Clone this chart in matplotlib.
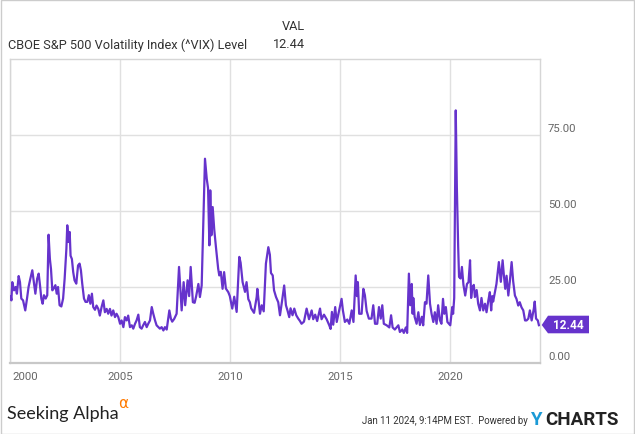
import matplotlib
matplotlib.use("Agg")
import matplotlib.pyplot as plt
import matplotlib.transforms as mtransforms
from matplotlib.patches import Polygon, Rectangle

plt.rcParams['font.family'] = ['Roboto', 'DejaVu Sans']

# weekly-ish VIX levels (decimal years)
years = [
    2000.02, 2000.05, 2000.09, 2000.17, 2000.24, 2000.30, 2000.38, 2000.44, 2000.50, 2000.58,
    2000.68, 2000.76, 2000.83, 2000.91, 2001.00, 2001.08, 2001.14, 2001.22, 2001.29, 2001.35,
    2001.41, 2001.47, 2001.53, 2001.61, 2001.68, 2001.74, 2001.80, 2001.85, 2001.91, 2001.97,
    2002.05, 2002.11, 2002.17, 2002.24, 2002.32, 2002.40, 2002.47, 2002.55, 2002.59, 2002.65,
    2002.70, 2002.74, 2002.80, 2002.86, 2002.92, 2003.00, 2003.08, 2003.15, 2003.21, 2003.27,
    2003.35, 2003.42, 2003.50, 2003.57, 2003.64, 2003.71, 2003.77, 2003.85, 2003.92, 2004.00,
    2004.07, 2004.15, 2004.23, 2004.30, 2004.38, 2004.45, 2004.53, 2004.60, 2004.68, 2004.76,
    2004.83, 2004.91, 2004.99, 2005.06, 2005.14, 2005.21, 2005.29, 2005.36, 2005.44, 2005.52,
    2005.59, 2005.67, 2005.74, 2005.82, 2005.89, 2005.97, 2006.04, 2006.12, 2006.20, 2006.27,
    2006.35, 2006.43, 2006.50, 2006.58, 2006.65, 2006.73, 2006.80, 2006.88, 2006.96, 2007.03,
    2007.11, 2007.18, 2007.23, 2007.30, 2007.36, 2007.45, 2007.56, 2007.67, 2007.79, 2007.88,
    2007.95, 2008.06, 2008.13, 2008.20, 2008.30, 2008.38, 2008.45, 2008.55, 2008.62, 2008.70,
    2008.85, 2008.93, 2008.99, 2009.05, 2009.09, 2009.14, 2009.20, 2009.27, 2009.35, 2009.45,
    2009.50, 2009.57, 2009.65, 2009.72, 2009.80, 2009.91, 2009.98, 2010.09, 2010.18, 2010.29,
    2010.41, 2010.47, 2010.56, 2010.67, 2010.74, 2010.82, 2010.89, 2010.95, 2011.08, 2011.20,
    2011.23, 2011.35, 2011.43, 2011.52, 2011.62, 2011.73, 2011.80, 2011.85, 2011.93, 2011.99,
    2012.08, 2012.18, 2012.26, 2012.35, 2012.45, 2012.53, 2012.60, 2012.68, 2012.74, 2012.83,
    2012.91, 2013.00, 2013.09, 2013.17, 2013.24, 2013.35, 2013.47, 2013.58, 2013.70, 2013.77,
    2013.86, 2013.95, 2014.08, 2014.15, 2014.26, 2014.38, 2014.50, 2014.56, 2014.62, 2014.68,
    2014.77, 2014.84, 2014.95, 2015.06, 2015.12, 2015.21, 2015.32, 2015.41, 2015.52, 2015.60,
    2015.70, 2015.76, 2015.80, 2015.86, 2015.97, 2016.05, 2016.12, 2016.20, 2016.30, 2016.42,
    2016.50, 2016.58, 2016.68, 2016.76, 2016.84, 2016.91, 2016.98, 2017.11, 2017.23, 2017.31,
    2017.38, 2017.48, 2017.56, 2017.64, 2017.71, 2017.82, 2017.89, 2017.98, 2018.04, 2018.12,
    2018.18, 2018.25, 2018.29, 2018.32, 2018.38, 2018.47, 2018.55, 2018.62, 2018.71, 2018.77,
    2018.85, 2018.92, 2019.00, 2019.08, 2019.15, 2019.23, 2019.30, 2019.38, 2019.45, 2019.53,
    2019.60, 2019.67, 2019.73, 2019.80, 2019.87, 2019.94, 2020.00, 2020.09, 2020.13, 2020.18,
    2020.25, 2020.30, 2020.36, 2020.40, 2020.47, 2020.53, 2020.60, 2020.68, 2020.76, 2020.83,
    2020.90, 2020.95, 2021.00, 2021.07, 2021.12, 2021.20, 2021.27, 2021.35, 2021.42, 2021.50,
    2021.58, 2021.65, 2021.73, 2021.80, 2021.86, 2021.91, 2021.95, 2022.03, 2022.10, 2022.21,
    2022.30, 2022.38, 2022.44, 2022.50, 2022.56, 2022.64, 2022.71, 2022.79, 2022.86, 2022.94,
    2023.01, 2023.09, 2023.16, 2023.24, 2023.32, 2023.40, 2023.47, 2023.55, 2023.62, 2023.70,
    2023.80, 2023.84, 2023.90, 2023.98, 2024.03,
]
vix = [
    22.0, 20.6, 26.6, 23.9, 25.0, 22.8, 28.6, 26.6, 21.2, 20.6,
    17.3, 21.2, 25.0, 27.7, 30.5, 26.1, 22.8, 27.7, 29.4, 25.6,
    21.2, 19.5, 22.3, 21.2, 22.3, 42.2, 34.2, 30.9, 23.9, 24.5,
    25.6, 22.8, 25.0, 19.0, 18.6, 21.2, 27.7, 37.6, 45.3, 39.8,
    43.1, 35.3, 34.2, 29.9, 27.2, 26.1, 32.1, 32.7, 30.5, 26.1,
    21.2, 20.1, 20.1, 22.3, 19.5, 22.8, 18.4, 17.5, 18.9, 17.8,
    15.6, 18.4, 20.6, 16.7, 17.8, 16.2, 17.8, 15.6, 17.3, 15.1,
    16.2, 15.1, 12.9, 14.0, 11.8, 15.1, 14.0, 15.6, 11.8, 12.4,
    11.3, 12.9, 14.0, 15.9, 11.8, 11.3, 12.4, 13.5, 11.8, 12.9,
    14.0, 18.4, 16.2, 14.0, 12.4, 11.8, 11.3, 11.8, 10.7, 11.8,
    11.0, 14.6, 17.3, 14.6, 13.6, 14.5, 16.2, 31.6, 17.3, 26.6,
    19.0, 27.2, 22.0, 31.6, 20.0, 19.8, 22.0, 26.0, 21.7, 25.5,
    67.2, 60.6, 57.5, 38.7, 56.8, 42.0, 51.3, 44.0, 38.0, 31.0,
    28.8, 30.0, 24.4, 29.9, 24.5, 23.3, 22.0, 17.9, 21.8, 16.8,
    34.9, 33.0, 26.6, 23.4, 26.6, 21.0, 20.0, 18.0, 16.5, 21.7,
    24.4, 16.2, 19.0, 17.0, 32.7, 38.1, 35.6, 29.6, 28.8, 23.9,
    21.7, 20.0, 15.7, 20.2, 25.5, 19.0, 17.3, 15.1, 18.0, 15.7,
    17.9, 15.7, 14.6, 13.8, 12.9, 13.6, 17.9, 14.4, 17.3, 14.4,
    15.9, 13.8, 17.9, 14.4, 15.9, 14.4, 12.4, 11.2, 16.8, 12.6,
    18.4, 13.5, 17.3, 21.1, 17.3, 13.5, 14.3, 12.9, 17.3, 13.5,
    28.8, 22.0, 26.6, 16.2, 16.2, 24.4, 22.3, 17.1, 14.6, 14.6,
    19.0, 12.9, 12.9, 18.4, 14.6, 19.0, 12.9, 12.4, 11.7, 15.7,
    11.7, 11.0, 11.7, 12.4, 10.2, 11.0, 9.9, 11.7, 9.9, 29.4,
    19.0, 26.0, 16.2, 21.4, 15.2, 12.9, 16.7, 12.5, 15.2, 12.4,
    20.0, 19.5, 28.8, 19.5, 16.2, 13.5, 16.7, 12.9, 19.0, 14.1,
    12.9, 21.1, 16.2, 18.4, 13.5, 12.9, 12.4, 18.4, 16.2, 21.4,
    83.1, 57.9, 38.2, 28.3, 27.8, 31.6, 25.7, 22.2, 26.0, 26.6,
    33.8, 21.4, 24.7, 25.7, 21.7, 24.0, 19.5, 17.3, 21.4, 17.3,
    19.5, 16.7, 20.5, 23.3, 17.3, 22.0, 20.2, 23.3, 26.0, 33.2,
    26.7, 33.8, 28.7, 24.4, 28.7, 22.2, 26.9, 33.2, 26.9, 22.2,
    21.1, 18.9, 20.0, 18.3, 17.3, 14.0, 14.0, 14.6, 17.3, 14.0,
    17.9, 20.2, 14.6, 14.0, 12.44,
]

x_ticks = [2000, 2005, 2010, 2015, 2020]
y_ticks = [0, 25, 50, 75]
y_tick_labels = ["0.00", "25.00", "50.00", "75.00"]
last_value = "12.44"

purple = "#6633cc"
grey_text = "#666666"

fig = plt.figure(figsize=(6.35, 4.35), dpi=100)
ax = fig.add_axes([10.3 / 635, 1 - 364 / 435, (540 - 10.3) / 635, (364 - 60) / 435])

ax.plot(years, vix, color=purple, lw=1.6, solid_joinstyle="round", zorder=3)

ax.set_xlim(2000.0, 2024.08)
ax.set_ylim(0, 100)
ax.set_xticks(x_ticks)
ax.set_yticks(y_ticks)
ax.grid(True, color="#e0e0e0", lw=1.0)
ax.tick_params(length=0, labelbottom=False, labelleft=False)
for side in ["top", "right", "left"]:
    ax.spines[side].set_color("#d6d6d6")
    ax.spines[side].set_linewidth(1.0)
ax.spines["bottom"].set_color("#c8c8c8")
ax.spines["bottom"].set_linewidth(1.6)

# y labels sit a little above their gridlines, to the right of the plot
ylab_tr = mtransforms.offset_copy(ax.get_yaxis_transform(), fig=fig, x=8, y=7, units="dots")
for v, lab in zip(y_ticks, y_tick_labels):
    ax.text(1.0, v, lab, transform=ylab_tr, ha="left", va="center",
            fontsize=8.2, color=grey_text)

xlab_tr = mtransforms.offset_copy(ax.get_xaxis_transform(), fig=fig, x=0, y=-13, units="dots")
for yr in x_ticks:
    if yr == x_ticks[0]:
        ax.text(yr, 0, str(yr), transform=mtransforms.offset_copy(xlab_tr, fig=fig, x=2, y=0, units="dots"),
                ha="left", va="center", fontsize=8.2, color=grey_text)
    else:
        ax.text(yr, 0, str(yr), transform=xlab_tr, ha="center", va="center",
                fontsize=8.2, color=grey_text)

# last value tag
fig.patches.append(Polygon([[541.7 / 635, 1 - 326 / 435], [548 / 635, 1 - 316.7 / 435],
                            [589 / 635, 1 - 316.7 / 435], [589 / 635, 1 - 334.3 / 435],
                            [548 / 635, 1 - 334.3 / 435]],
                           closed=True, transform=fig.transFigure, facecolor=purple,
                           edgecolor="none"))
fig.text(568.5 / 635, 1 - 325.8 / 435, last_value, ha="center", va="center",
         fontsize=8.5, color="white", fontweight="bold")

# header
fig.text(305 / 635, 1 - 26 / 435, "VAL", ha="right", va="center", fontsize=9.2, color="#333333")
fig.text(8 / 635, 1 - 45 / 435, "CBOE S&P 500 Volatility Index (^VIX) Level", ha="left",
         va="center", fontsize=9.2, color="#333333")
fig.text(305 / 635, 1 - 45 / 435, last_value, ha="right", va="center", fontsize=9.2, color="#333333")

# footer
fig.text(7 / 635, 1 - 414 / 435, "Seeking Alpha", ha="left", va="center", fontsize=13,
         color="#222222", family=["Lato", "DejaVu Sans"])
fig.text(118 / 635, 1 - 404 / 435, "\u03b1", ha="left", va="center", fontsize=11,
         color="#ff7a00", family=["DejaVu Sans"])
fig.text(362 / 635, 1 - 421 / 435, "Jan 11 2024, 9:14PM EST.  Powered by", ha="left",
         va="center", fontsize=6.9, color="#333333")
fig.text(530 / 635, 1 - 420 / 435, "Y", ha="left", va="center", fontsize=13.5,
         color="#1b9ad6", fontweight="bold")
fig.text(545 / 635, 1 - 420 / 435, "CHARTS", ha="left", va="center", fontsize=13.5,
         color="#222222", fontweight="bold")

# outer frame
fig.patches.append(Rectangle((0.5 / 635, 0.5 / 435), 633.5 / 635, 433.5 / 435, transform=fig.transFigure,
                             fill=False, edgecolor="#cccccc", lw=1.0))

fig.savefig("out.png", dpi=100)
